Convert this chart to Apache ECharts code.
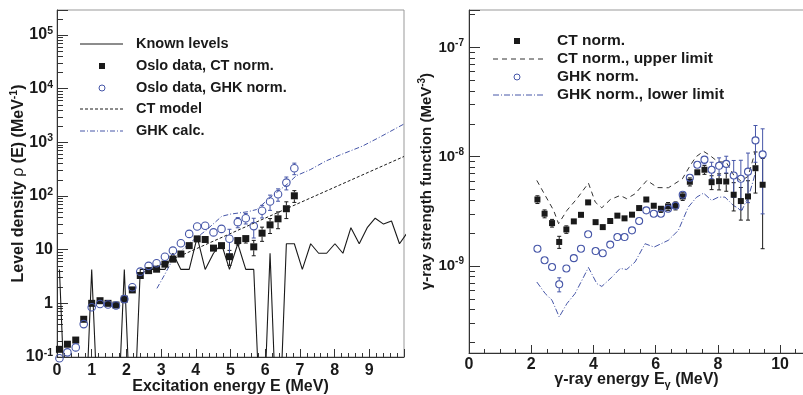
<!DOCTYPE html>
<html><head><meta charset="utf-8">
<script src="https://cdn.jsdelivr.net/npm/echarts@6/dist/echarts.min.js"></script>
<style>html,body{margin:0;padding:0;background:#fff}#c{width:803px;height:395px}</style>
</head><body><div id="c"></div>
<script>
// ---------------- LEFT PANEL DATA (level density) ----------------
const levelE = [0.07,0.30,0.54,0.77,1.00,1.24,1.47,1.70,1.94,2.17,2.40,2.64,2.87,3.11,3.34,3.57,3.81,4.04,4.27,4.51,4.74,4.97,5.21,5.44,5.67,5.91,6.14,6.37,6.61,6.84,7.07,7.31,7.54,7.77,8.01,8.24,8.47,8.71,8.94,9.17,9.41,9.64,9.87,10.11];
const knownLevels = [4.29,0,0,0,4.29,0,0,0,4.29,0,4.29,4.29,4.29,4.29,8.58,4.29,4.29,17.2,4.29,8.58,12.9,4.29,12.9,4.29,4.29,0,8.58,0,12.9,12.9,4.29,12.9,8.58,8.58,12.9,8.58,25.7,12.9,25.7,38.6,30.0,34.3,12.9,21.5];
const osloE = [0.07,0.30,0.54,0.77,1.00,1.24,1.47,1.70,1.94,2.17,2.40,2.64,2.87,3.11,3.34,3.57,3.81,4.04,4.27,4.51,4.74,4.97,5.21,5.44,5.67,5.91,6.14,6.37,6.61,6.84];
const osloCT = [0.139,0.173,0.207,0.505,1.0,1.12,1.0,0.93,1.2,1.78,3.3,4.07,4.33,5.37,6.66,8.3,11.9,15.9,15.5,10.7,11.9,7.4,14.8,16.1,11.3,20.3,29,37.6,58,101];
const osloCTErr = [0.005,0.006,0.008,0.015,0.03,0.03,0.03,0.03,0.04,0.06,0.12,0.15,0.17,0.22,0.3,0.4,0.6,0.9,1.0,1.2,1.5,2.3,2.5,2.8,3.6,6,9,13,20,25];
const osloGHK = [0.095,0.122,0.151,0.41,0.845,0.97,0.95,0.91,1.2,2.0,3.9,5.0,5.6,7.4,9.6,13.2,19.7,27,28,21,24.4,16,32.6,38.6,27.5,53,79,108,178,330];
const osloGHKErr = [0.004,0.005,0.006,0.012,0.03,0.03,0.03,0.03,0.04,0.07,0.14,0.18,0.2,0.3,0.4,0.6,0.9,1.3,1.5,3,3.5,8,7,8.5,11,14,25,28,48,80];
const ctModelE = [2.45, 10.0];
const ctModelV = [3.7, 546];
const ghkCalcE = [2.88,3.10,3.35,3.80,4.30,4.75,5.00,5.50,5.75,6.20,6.65,6.90,7.30,7.75,8.15,8.80,9.30,10.0];
const ghkCalcV = [1.9,3.4,6.8,13,23,42,46,51,56,100,170,240,310,450,580,850,1250,2200];
const leftXTicks = [0,1,2,3,4,5,6,7,8,9];
const leftYRange = [0.1, 2.93e5];

// ---------------- RIGHT PANEL DATA (gamma strength) ----------------
const gammaE = [2.20,2.43,2.67,2.90,3.13,3.37,3.60,3.83,4.07,4.30,4.54,4.77,5.00,5.24,5.47,5.70,5.94,6.17,6.40,6.64,6.87,7.10,7.34,7.57,7.80,8.04,8.27,8.51,8.74,8.97,9.21,9.44];
const fCT = [4.06e-9,3.01e-9,2.47e-9,1.66e-9,2.16e-9,2.56e-9,2.94e-9,3.82e-9,2.52e-9,2.27e-9,2.58e-9,2.89e-9,2.73e-9,2.95e-9,3.39e-9,4.06e-9,3.56e-9,3.34e-9,3.51e-9,3.56e-9,4.33e-9,5.9e-9,7.2e-9,7.6e-9,5.85e-9,5.97e-9,5.93e-9,4.49e-9,3.93e-9,4.33e-9,7.85e-9,5.54e-9];
const fCTErr = [0.33e-9,0.25e-9,0.2e-9,0.21e-9,0.17e-9,0.17e-9,0.15e-9,0.2e-9,0.12e-9,0.12e-9,0.12e-9,0.13e-9,0.13e-9,0.15e-9,0.18e-9,0.25e-9,0.25e-9,0.25e-9,0.3e-9,0.3e-9,0.35e-9,0.5e-9,0.5e-9,0.7e-9,0.85e-9,1.0e-9,1.1e-9,1.3e-9,1.3e-9,1.7e-9,3.2e-9,4.1e-9];
const fGHK = [1.44e-9,1.13e-9,0.98e-9,0.68e-9,0.95e-9,1.18e-9,1.44e-9,1.95e-9,1.37e-9,1.31e-9,1.57e-9,1.84e-9,1.84e-9,2.12e-9,2.58e-9,3.23e-9,3.01e-9,3.01e-9,3.34e-9,3.56e-9,4.49e-9,6.42e-9,8.45e-9,9.4e-9,7.6e-9,8.26e-9,8.6e-9,6.74e-9,6.28e-9,7.3e-9,1.41e-8,1.05e-8];
const fGHKErr = [0.08e-9,0.07e-9,0.06e-9,0.1e-9,0.06e-9,0.07e-9,0.08e-9,0.1e-9,0.08e-9,0.08e-9,0.09e-9,0.1e-9,0.1e-9,0.12e-9,0.15e-9,0.2e-9,0.2e-9,0.2e-9,0.25e-9,0.25e-9,0.3e-9,0.5e-9,0.6e-9,0.8e-9,1.3e-9,1.5e-9,1.5e-9,2.5e-9,3.0e-9,3.5e-9,5.2e-9,7.5e-9];
const upperE = [2.18,2.45,2.72,2.88,3.15,3.47,3.84,4.06,4.27,4.54,4.86,5.07,5.34,5.72,6.06,6.41,6.86,7.11,7.30,7.54,7.72,8.00,8.27,8.51,8.74,8.97,9.21];
const upperV = [6.07e-9,4.42e-9,3.23e-9,2.44e-9,3.23e-9,4.13e-9,5.73e-9,3.84e-9,3.41e-9,4.05e-9,4.42e-9,4.13e-9,4.58e-9,6.07e-9,5.22e-9,5.2e-9,6.28e-9,8.3e-9,1.0e-8,1.12e-8,1.04e-8,9.0e-9,8.9e-9,6.8e-9,6.0e-9,6.6e-9,1.13e-8];
const lowerE = [2.18,2.45,2.67,2.90,3.15,3.41,3.63,3.84,4.11,4.27,4.59,4.86,5.07,5.34,5.66,5.95,6.41,6.73,7.05,7.32,7.54,7.80,8.02,8.23,8.50,8.77,8.98,9.14,9.25];
const lowerV = [7.14e-10,5.6e-10,4.86e-10,3.42e-10,4.54e-10,5.6e-10,7.4e-10,9.7e-10,6.9e-10,6.5e-10,7.9e-10,9.5e-10,9.3e-10,1.09e-9,1.6e-9,1.49e-9,1.72e-9,2.12e-9,3.46e-9,4.27e-9,4.64e-9,3.98e-9,4.27e-9,4.27e-9,3.58e-9,3.23e-9,4.27e-9,6.07e-9,8.0e-9];
const rightXTicks = [0,2,4,6,8,10];
const rightXMinor = [0.5,1,1.5,2.5,3,3.5,4.5,5,5.5,6.5,7,7.5,8.5,9,9.5,10.5];
const rightYRange = [1.6e-10, 2.2e-7];
const rightXMax = 10.77;

// ---------------- BUILD ----------------
const FONT = '"Liberation Sans", Arial, Helvetica, sans-serif';
const BLUE = '#4656a8';
const INK = '#1a1a1a';
const zip = (a, b) => a.map((x, i) => [x, b[i]]);
const zip3 = (a, b, c) => a.map((x, i) => [x, b[i], c[i]]);
const FLOOR_L = 1e-3; // zero-count bins fall below the axis and get clipped

function minorLogTicks(range) {
  const lo = Math.log10(range[0]), hi = Math.log10(range[1]);
  const out = [];
  for (let n = Math.floor(lo); n <= Math.ceil(hi); n++) {
    for (let k = 2; k <= 9; k++) {
      const v = Math.log10(k) + n;
      if (v > lo && v < hi) out.push(v);
    }
  }
  return out;
}
function logLabel(v) {
  const e = Math.log10(v), r = Math.round(e);
  if (Math.abs(e - r) > 1e-6) return '';
  if (r === 0) return '1';
  if (r === 1) return '10';
  return '10{s|' + r + '}';
}
function errBars(size, floor) {
  return function (params, api) {
    const x = api.value(0), y = api.value(1), e = api.value(2);
    const c = api.coord([x, y]);
    const hi = api.coord([x, y + e]);
    const loVal = y - e;
    const lo = api.coord([x, loVal > floor ? loVal : floor]);
    const half = size / 2, cap = 2;
    const style = { stroke: api.visual('color'), lineWidth: 1 };
    const ch = [];
    if (c[1] - hi[1] > half + 0.5) {
      ch.push({ type: 'line', shape: { x1: c[0], y1: c[1] - half, x2: c[0], y2: hi[1] }, style });
      ch.push({ type: 'line', shape: { x1: c[0] - cap, y1: hi[1], x2: c[0] + cap, y2: hi[1] }, style });
    }
    if (lo[1] - c[1] > half + 0.5) {
      ch.push({ type: 'line', shape: { x1: c[0], y1: c[1] + half, x2: c[0], y2: lo[1] }, style });
      if (loVal > floor) ch.push({ type: 'line', shape: { x1: c[0] - cap, y1: lo[1], x2: c[0] + cap, y2: lo[1] }, style });
    }
    return { type: 'group', children: ch };
  };
}

const tickLabelStyle = (size) => ({
  fontFamily: FONT, fontWeight: 'bold', fontSize: size, color: INK
});
const supRich = (size) => ({ s: { fontFamily: FONT, fontWeight: 'bold', fontSize: size, color: INK, verticalAlign: 'top', lineHeight: 10 } });

const chart = echarts.init(document.getElementById('c'), null, { renderer: 'canvas' });

const legendL = [];
const lx0 = 80, lx1 = 123, lmx = 102, ltx = 136;
const lrows = [44, 66, 88, 109, 131];
const ltexts = ['Known levels', 'Oslo data, CT norm.', 'Oslo data, GHK norm.', 'CT model', 'GHK calc.'];
legendL.push({ type: 'line', shape: { x1: lx0, y1: lrows[0], x2: lx1, y2: lrows[0] }, style: { stroke: INK, lineWidth: 1 } });
legendL.push({ type: 'rect', shape: { x: lmx - 3, y: lrows[1] - 3, width: 6, height: 6 }, style: { fill: INK } });
legendL.push({ type: 'circle', shape: { cx: lmx, cy: lrows[2], r: 3 }, style: { fill: 'none', stroke: BLUE, lineWidth: 1 } });
legendL.push({ type: 'line', shape: { x1: lx0, y1: lrows[3], x2: lx1, y2: lrows[3] }, style: { stroke: INK, lineWidth: 1, lineDash: [3, 2] } });
legendL.push({ type: 'line', shape: { x1: lx0, y1: lrows[4], x2: lx1, y2: lrows[4] }, style: { stroke: BLUE, lineWidth: 1, lineDash: [5, 2, 1, 2] } });
ltexts.forEach((t, i) => legendL.push({ type: 'text', x: ltx, y: lrows[i], style: { text: t, fill: INK, font: 'bold 14.5px ' + FONT, verticalAlign: 'middle', align: 'left' } }));

const rx0 = 493, rx1 = 543, rmx = 517, rtx = 557;
const rrows = [41, 59, 77, 95];
const rtexts = ['CT norm.', 'CT norm., upper limit', 'GHK norm.', 'GHK norm., lower limit'];
legendL.push({ type: 'rect', shape: { x: rmx - 3, y: rrows[0] - 3, width: 6, height: 6 }, style: { fill: INK } });
legendL.push({ type: 'line', shape: { x1: rx0, y1: rrows[1], x2: rx1, y2: rrows[1] }, style: { stroke: '#333', lineWidth: 1, lineDash: [5, 4] } });
legendL.push({ type: 'circle', shape: { cx: rmx, cy: rrows[2], r: 3 }, style: { fill: 'none', stroke: BLUE, lineWidth: 1 } });
legendL.push({ type: 'line', shape: { x1: rx0, y1: rrows[3], x2: rx1, y2: rrows[3] }, style: { stroke: BLUE, lineWidth: 1, lineDash: [6, 2, 1, 2] } });
rtexts.forEach((t, i) => legendL.push({ type: 'text', x: rtx, y: rrows[i], style: { text: t, fill: INK, font: 'bold 15.5px ' + FONT, verticalAlign: 'middle', align: 'left' } }));

const axisLineStyle = { color: '#333', width: 1 };
const option = {
  animation: false,
  backgroundColor: '#fff',
  grid: [
    { left: 57, top: 10, width: 347, height: 347, containLabel: false, outerBoundsMode: 'none', show: true, borderColor: '#999', borderWidth: 1, backgroundColor: 'transparent' },
    { left: 469, top: 10, width: 335, height: 343, containLabel: false, outerBoundsMode: 'none', show: true, borderColor: '#999', borderWidth: 1, backgroundColor: 'transparent' }
  ],
  xAxis: [
    { type: 'value', gridIndex: 0, min: 0, max: 10, interval: 1, position: 'bottom',
      axisLine: { onZero: false, lineStyle: axisLineStyle }, splitLine: { show: false },
      axisTick: { inside: true, length: 8, lineStyle: axisLineStyle },
      minorTick: { show: true, splitNumber: 5, length: 4, lineStyle: axisLineStyle },
      axisLabel: Object.assign(tickLabelStyle(16), { margin: 6, formatter: v => (leftXTicks.indexOf(v) >= 0 ? String(v) : '') }),
      name: 'Excitation energy E (MeV)', nameLocation: 'middle', nameGap: 22, nameMoveOverlap: false,
      nameTextStyle: { fontFamily: FONT, fontWeight: 'bold', fontSize: 16, color: INK } },
    { type: 'value', gridIndex: 1, min: 0, max: rightXMax, position: 'bottom',
      axisLine: { onZero: false, lineStyle: axisLineStyle }, splitLine: { show: false },
      axisTick: { inside: true, length: 8, lineStyle: axisLineStyle, customValues: rightXTicks },
      axisLabel: Object.assign(tickLabelStyle(16), { margin: 4, customValues: rightXTicks }),
      name: 'γ-ray energy E{sub|γ} (MeV)', nameLocation: 'middle', nameGap: 17, nameMoveOverlap: false,
      nameTextStyle: { fontFamily: FONT, fontWeight: 'bold', fontSize: 16, color: INK, lineHeight: 20,
        rich: { sub: { fontFamily: FONT, fontWeight: 'bold', fontSize: 11, color: INK, verticalAlign: 'bottom', lineHeight: 11 } } } },
    { type: 'value', gridIndex: 1, min: 0, max: rightXMax, position: 'bottom',
      axisLine: { show: false, onZero: false }, splitLine: { show: false }, axisLabel: { show: false },
      axisTick: { inside: true, length: 4, lineStyle: axisLineStyle, customValues: rightXMinor } }
  ],
  yAxis: [
    { type: 'log', logBase: 10, gridIndex: 0, min: leftYRange[0], max: leftYRange[1], position: 'left',
      axisLine: { onZero: false, lineStyle: axisLineStyle }, splitLine: { show: false },
      axisTick: { inside: true, length: 11, lineStyle: axisLineStyle },
      axisLabel: Object.assign(tickLabelStyle(16), { margin: 4, lineHeight: 19, formatter: logLabel, rich: supRich(10.5) }),
      name: 'Level density {g|ρ} (E) (MeV{s|-1})', nameLocation: 'middle', nameGap: 28, nameMoveOverlap: false,
      nameTextStyle: { fontFamily: FONT, fontWeight: 'bold', fontSize: 16, color: INK, lineHeight: 20,
        rich: { g: { fontFamily: FONT, fontWeight: 'normal', fontSize: 16, color: INK, lineHeight: 20 },
                s: { fontFamily: FONT, fontWeight: 'bold', fontSize: 10.5, color: INK, verticalAlign: 'top', lineHeight: 10 } } } },
    { type: 'value', gridIndex: 0, min: Math.log10(leftYRange[0]), max: Math.log10(leftYRange[1]), position: 'left',
      axisLine: { show: false, onZero: false }, splitLine: { show: false }, axisLabel: { show: false },
      axisTick: { inside: true, length: 6, lineStyle: axisLineStyle, customValues: minorLogTicks(leftYRange) } },
    { type: 'log', logBase: 10, gridIndex: 1, min: rightYRange[0], max: rightYRange[1], position: 'left',
      axisLine: { onZero: false, lineStyle: axisLineStyle }, splitLine: { show: false },
      axisTick: { inside: true, length: 11, lineStyle: axisLineStyle },
      axisLabel: Object.assign(tickLabelStyle(15), { margin: 5, lineHeight: 19, formatter: logLabel, rich: supRich(10) }),
      name: 'γ-ray strength function (MeV{s|-3})', nameLocation: 'middle', nameGap: 32, nameMoveOverlap: false,
      nameTextStyle: { fontFamily: FONT, fontWeight: 'bold', fontSize: 15, color: INK, lineHeight: 20,
        rich: { s: { fontFamily: FONT, fontWeight: 'bold', fontSize: 10, color: INK, verticalAlign: 'top', lineHeight: 10 } } } },
    { type: 'value', gridIndex: 1, min: Math.log10(rightYRange[0]), max: Math.log10(rightYRange[1]), position: 'left',
      axisLine: { show: false, onZero: false }, splitLine: { show: false }, axisLabel: { show: false },
      axisTick: { inside: true, length: 6, lineStyle: axisLineStyle, customValues: minorLogTicks(rightYRange) } }
  ],
  graphic: { elements: legendL },
  series: [
    { name: 'Known levels', type: 'line', xAxisIndex: 0, yAxisIndex: 0, clip: true, symbol: 'none',
      data: levelE.map((e, i) => [e, knownLevels[i] > 0 ? knownLevels[i] : FLOOR_L]),
      lineStyle: { color: INK, width: 1.1 }, z: 2 },
    { name: 'CT model', type: 'line', xAxisIndex: 0, yAxisIndex: 0, clip: true, symbol: 'none',
      data: zip(ctModelE, ctModelV), lineStyle: { color: INK, width: 1, type: [3, 2] }, z: 2 },
    { name: 'GHK calc.', type: 'line', xAxisIndex: 0, yAxisIndex: 0, clip: true, symbol: 'none',
      data: zip(ghkCalcE, ghkCalcV), lineStyle: { color: BLUE, width: 1, type: [5, 2, 1, 2] }, z: 2 },
    { type: 'custom', xAxisIndex: 0, yAxisIndex: 0, renderItem: errBars(7, leftYRange[0]),
      itemStyle: { color: INK }, data: zip3(osloE, osloCT, osloCTErr), z: 3 },
    { type: 'custom', xAxisIndex: 0, yAxisIndex: 0, renderItem: errBars(8, leftYRange[0]),
      itemStyle: { color: BLUE }, data: zip3(osloE, osloGHK, osloGHKErr), z: 3 },
    { name: 'Oslo data, CT norm.', type: 'scatter', xAxisIndex: 0, yAxisIndex: 0, clip: false,
      symbol: 'rect', symbolSize: 7, itemStyle: { color: INK, opacity: 1 }, data: zip(osloE, osloCT), z: 4 },
    { name: 'Oslo data, GHK norm.', type: 'scatter', xAxisIndex: 0, yAxisIndex: 0, clip: false,
      symbol: 'circle', symbolSize: 7.5, itemStyle: { color: 'rgba(0,0,0,0)', borderColor: BLUE, borderWidth: 1.1, opacity: 1 },
      data: zip(osloE, osloGHK), z: 5 },

    { name: 'CT norm., upper limit', type: 'line', xAxisIndex: 1, yAxisIndex: 2, symbol: 'none',
      data: zip(upperE, upperV), lineStyle: { color: '#333', width: 1, type: [5, 4] }, z: 2 },
    { name: 'GHK norm., lower limit', type: 'line', xAxisIndex: 1, yAxisIndex: 2, symbol: 'none',
      data: zip(lowerE, lowerV), lineStyle: { color: BLUE, width: 1, type: [6, 2, 1, 2] }, z: 2 },
    { type: 'custom', xAxisIndex: 1, yAxisIndex: 2, renderItem: errBars(6, rightYRange[0]),
      itemStyle: { color: INK }, data: zip3(gammaE, fCT, fCTErr), z: 3 },
    { type: 'custom', xAxisIndex: 1, yAxisIndex: 2, renderItem: errBars(7, rightYRange[0]),
      itemStyle: { color: BLUE }, data: zip3(gammaE, fGHK, fGHKErr), z: 3 },
    { name: 'CT norm.', type: 'scatter', xAxisIndex: 1, yAxisIndex: 2, clip: false,
      symbol: 'rect', symbolSize: 6, itemStyle: { color: INK, opacity: 1 }, data: zip(gammaE, fCT), z: 4 },
    { name: 'GHK norm.', type: 'scatter', xAxisIndex: 1, yAxisIndex: 2, clip: false,
      symbol: 'circle', symbolSize: 7, itemStyle: { color: 'rgba(0,0,0,0)', borderColor: BLUE, borderWidth: 1.1, opacity: 1 },
      data: zip(gammaE, fGHK), z: 5 }
  ]
};
chart.setOption(option);
</script>
</body></html>
